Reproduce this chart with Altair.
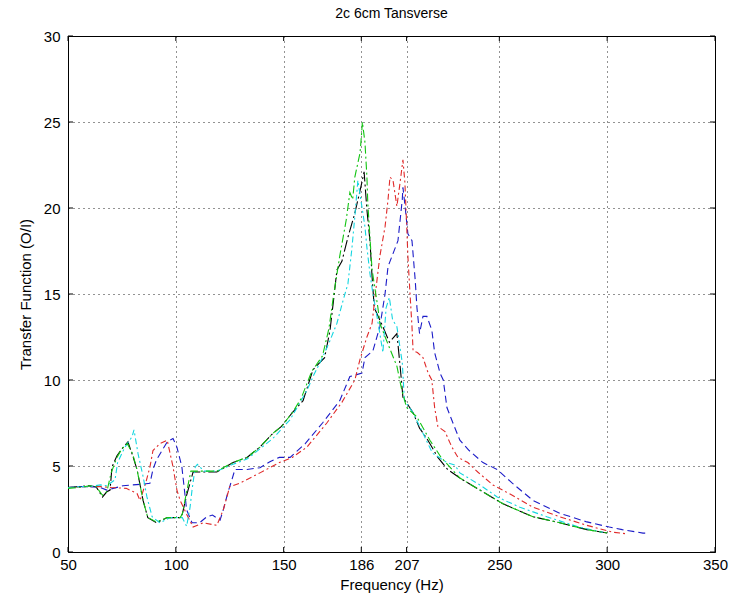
import altair as alt
import pandas as pd

# ---------------- data ----------------
black_x = [50,55,60,63,66,68,69.5,70.4,72.7,75,77.8,80,82,84.8,87,91,96,102,103,105,
           108,112,119,126.5,133,139,145,149,154,159,163.6,169,171.5,173,174.7,177,179.8,183,186.3,187.3,
           188.6,190,191,192,196,199,202.5,204,205.3,210,213,216.4,221.5,226,231.7,241,251.7,265.6,278,290.6,
           298,300]
black_y = [3.75,3.8,3.85,3.8,3.2,3.5,3.6,4.95,5.6,6.0,6.4,5.6,4.8,3.0,2.0,1.7,2.0,2.0,2.2,3.3,
           4.65,4.65,4.65,5.2,5.5,6.1,6.9,7.3,8.1,8.8,10.6,11.3,12.9,14.5,16.4,16.9,18.3,19.7,21.5,22.1,
           19.9,18.1,16.0,14.2,13.1,12.2,12.7,10.8,9.0,8.1,7.2,6.6,5.5,4.8,4.3,3.6,2.8,2.05,1.7,1.3,
           1.15,1.1]

green_x = [50,55,60,63,66,68,70,72.7,75,77.5,80,82,84.8,87,91,96,102,103,105,107,
           112,119,126.5,133,139,145,149,154,158,163,168,171,173,176,179,180.7,182,183,185.4,186,
           186.5,187.7,188.6,189,190,191,193.7,194.6,198,202.5,204.8,207,211.8,217.8,223,231.7,241,251.7,265.6,278,
           290.6,300]
green_y = [3.7,3.75,3.85,3.8,3.3,3.5,4.6,5.5,6.0,6.3,5.7,4.8,3.0,2.0,1.75,2.0,2.0,2.2,3.5,4.7,
           4.7,4.7,5.2,5.5,6.1,6.9,7.3,8.1,8.9,10.5,11.4,13.0,14.8,17.2,19.3,20.9,20.5,21.8,23.2,24.1,
           25.0,23.8,21.8,20.3,18.3,16.4,14.2,13.3,12.2,10.8,9.4,8.4,7.85,6.5,5.5,4.3,3.6,2.8,2.05,1.7,
           1.3,1.1]

cyan_x = [50,55,60,65,68,71.8,73,76.4,79.7,80.6,82.5,84.8,86.6,89,92.6,97.3,103,105,106.6,107.5,
          109,110,113,119,126.5,133,139,145,153,160.8,164,168,171.5,174.7,177.5,179.8,181.6,183,184.4,186,
          187.7,188.6,190,191.4,193,194.6,196,197.5,199,200.5,202.5,205,206,210,214.6,219,225.7,229.4,231.7,241,
          249,259.6,272,287,298]
cyan_y = [3.75,3.8,3.8,3.9,3.85,4.2,5.2,6.1,6.7,7.1,5.7,4.4,3.2,2.05,1.7,2.0,2.0,1.5,2.6,3.6,
          4.95,5.1,4.7,4.7,5.1,5.4,6.0,6.6,7.7,9.4,10.3,11.3,12.3,13.3,14.6,15.6,17.6,19.5,21.6,20.3,
          18.9,17.7,16.2,15.0,13.9,12.7,11.6,14.2,14.8,13.5,13.1,11.0,8.8,8.1,6.9,5.75,5.2,5.05,4.6,3.9,
          3.2,2.6,2.05,1.45,1.15]

blue_x = [50,55,60,65,68,71,75.5,80,85,88,89.4,91,93.6,96,98.7,100.5,102.8,104,105,107.5,
          111,114.4,117,120.5,122,124,126,127.4,133,139,143.6,148,153,160,168,176,180.7,186.3,187.7,191.4,
          194.6,197,198.4,203,205,205.3,206.3,207.6,209.5,211,211.8,213,214.6,216.4,218.7,220,222.5,224,225.7,228.5,
          231.7,236,242.4,249,256,265.6,278,290.6,301,307,316.6,318]
blue_y = [3.75,3.8,3.8,3.75,3.6,3.7,3.85,3.9,3.95,4.0,4.8,5.35,5.9,6.4,6.6,6.1,4.95,3.6,2.45,1.7,
          1.7,2.05,2.15,1.85,2.45,3.4,4.2,4.8,4.8,4.9,5.25,5.5,5.5,6.3,7.5,8.8,10.2,10.4,11.3,11.7,
          13.1,15.0,16.6,18.1,20.5,21.2,20.1,18.5,18.1,15.8,14.2,12.7,13.7,13.7,12.9,11.6,10.4,10.0,8.4,7.5,
          6.5,5.9,5.2,4.8,4.0,3.0,2.25,1.75,1.45,1.3,1.1,1.1]

red_x = [50,55,60,65,70,77,82,83.4,86,88,89.4,92.6,96,98.7,100.5,102,105,108,112.6,119,
         122,125,129.7,139,148,154,160.8,170,177,183,185.4,188.6,191,192.5,194.6,197,198.4,199.3,200.7,202.5,
         204,205.3,206.2,207,207.6,208.5,209.5,210,212,214.6,217,218.7,220,221.5,224.8,228,230.8,235.4,240,247,
         256,265.6,278,290.6,302.6,309.6]
red_y = [3.75,3.8,3.8,3.8,3.75,3.7,3.4,3.0,4.0,4.95,5.9,6.3,6.5,4.95,3.6,3.0,2.2,1.45,1.7,1.55,
         2.45,3.8,4.0,4.6,5.2,5.5,6.1,7.5,8.7,10.0,11.2,12.5,13.3,15.0,17.2,18.9,20.5,21.8,21.6,20.1,
         21.5,22.8,21.5,19.1,17.2,15.2,13.1,11.7,11.6,11.3,10.4,10.0,8.4,7.3,7.0,6.1,5.5,5.2,4.65,3.9,
         3.3,2.6,2.05,1.55,1.15,1.05]

x_ticks = [50, 100, 150, 186, 207, 250, 300, 350]
y_ticks = [0, 5, 10, 15, 20, 25, 30]

# ---------------- chart ----------------
W, H = 647, 516
FONT = "Liberation Sans"

series = [
    ("black", black_x, black_y, "#000000", [12, 3, 2, 3]),
    ("blue", blue_x, blue_y, "#1c1cc8", [7, 4]),
    ("red", red_x, red_y, "#e02a2a", [6, 3, 2, 3]),
    ("cyan", cyan_x, cyan_y, "#14d6e0", [6, 3, 2, 3]),
    ("green", green_x, green_y, "#12c412", [8, 3, 2, 3]),
]

xscale = alt.Scale(domain=[50, 350], nice=False, zero=False)
yscale = alt.Scale(domain=[0, 30], nice=False, zero=True)

xaxis = alt.Axis(values=x_ticks, title="Frequency (Hz)", grid=True, gridDash=[1, 4],
                 gridColor="#000000", gridOpacity=0.85, ticks=False, domain=False,
                 labelFont=FONT, labelFontSize=15, labelColor="#000", labelPadding=5,
                 titleFont=FONT, titleFontSize=15, titleFontWeight="normal", titleColor="#000",
                 titlePadding=5, labelFlush=False)
yaxis = alt.Axis(values=y_ticks, title="Transfer Function (O/I)", grid=True, gridDash=[1, 4],
                 gridColor="#000000", gridOpacity=0.85, ticks=False, domain=False,
                 labelFont=FONT, labelFontSize=15, labelColor="#000", labelPadding=8,
                 titleFont=FONT, titleFontSize=15, titleFontWeight="normal", titleColor="#000",
                 titlePadding=10, labelFlush=False)

layers = []
for name, xs, ys, col, dash in series:
    df = pd.DataFrame({"f": xs, "v": ys})
    layers.append(
        alt.Chart(df).mark_line(color=col, strokeWidth=1.1, strokeDash=dash, clip=True)
        .encode(x=alt.X("f:Q", scale=xscale, axis=xaxis),
                y=alt.Y("v:Q", scale=yscale, axis=yaxis))
    )

xt = pd.DataFrame({"f": x_ticks})
yt = pd.DataFrame({"v": y_ticks})
tick_style = dict(color="#000", strokeWidth=1)
layers += [
    alt.Chart(xt).mark_rule(**tick_style).encode(x=alt.X("f:Q", scale=xscale, axis=xaxis), y=alt.value(H), y2=alt.value(H - 5)),
    alt.Chart(xt).mark_rule(**tick_style).encode(x=alt.X("f:Q", scale=xscale, axis=xaxis), y=alt.value(0), y2=alt.value(5)),
    alt.Chart(yt).mark_rule(**tick_style).encode(y=alt.Y("v:Q", scale=yscale, axis=yaxis), x=alt.value(0), x2=alt.value(5)),
    alt.Chart(yt).mark_rule(**tick_style).encode(y=alt.Y("v:Q", scale=yscale, axis=yaxis), x=alt.value(W), x2=alt.value(W - 5)),
]

chart = alt.layer(*layers).properties(
    width=W, height=H,
    title=alt.TitleParams("2c 6cm Tansverse", font=FONT, fontSize=14, fontWeight="normal",
                          color="#000", anchor="middle", offset=8),
    autosize=alt.AutoSizeParams(type="none"),
    padding={"left": 68, "top": 36, "right": 14, "bottom": 54},
    background="white",
).configure_view(stroke="#000", strokeWidth=1)

chart.save("out.html", embed_options={"renderer": "svg", "actions": False})
